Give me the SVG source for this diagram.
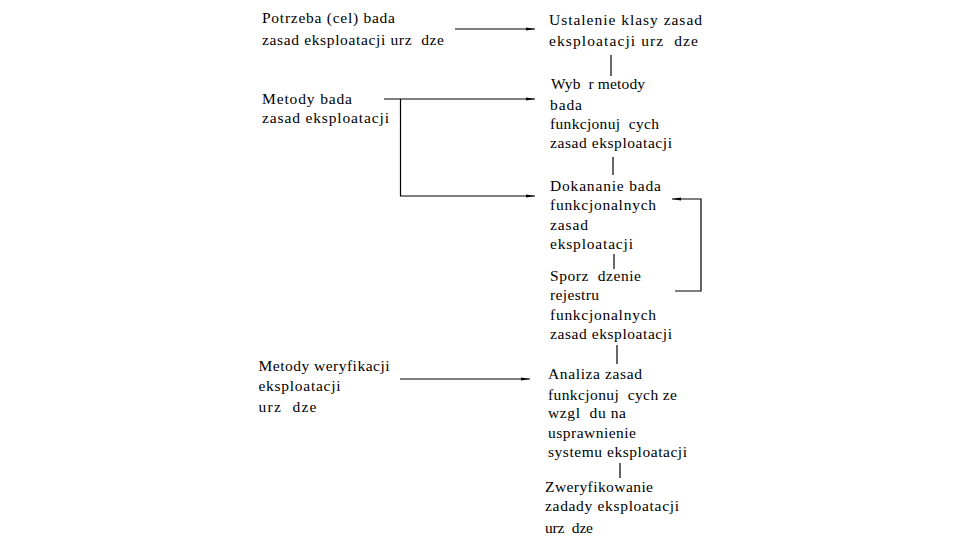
<svg xmlns="http://www.w3.org/2000/svg" width="976" height="551" viewBox="0 0 976 551" xml:space="preserve">
<style>
text{font-family:"Liberation Serif","Times New Roman",serif;font-size:15.5px;fill:#000;white-space:pre}
.c{stroke:#000;stroke-width:1.2;fill:none}
</style>
<defs>
<marker id="ah" markerWidth="9" markerHeight="4" refX="9" refY="2" orient="auto" markerUnits="userSpaceOnUse">
<path d="M0,0.5 L9,2 L0,3.5 Z" fill="#000"/>
</marker>
</defs>
<rect width="976" height="551" fill="#fff"/>
<g id="n-potrzeba">
<text x="262" y="23" textLength="133" lengthAdjust="spacing">Potrzeba (cel) bada</text>
<text x="262" y="45" textLength="182" lengthAdjust="spacing">zasad eksploatacji urz  dze</text>
</g>
<g id="n-ustalenie">
<text x="549" y="25" textLength="153" lengthAdjust="spacing">Ustalenie klasy zasad</text>
<text x="549" y="46" textLength="149" lengthAdjust="spacing">eksploatacji urz  dze</text>
</g>
<g id="n-metody-badan">
<text x="262" y="104" textLength="90" lengthAdjust="spacing">Metody bada</text>
<text x="262" y="123" textLength="127" lengthAdjust="spacing">zasad eksploatacji</text>
</g>
<g id="n-wybor">
<text x="551" y="89" textLength="94" lengthAdjust="spacing">Wyb  r metody</text>
<text x="550" y="110" textLength="32" lengthAdjust="spacing">bada</text>
<text x="550" y="129" textLength="109" lengthAdjust="spacing">funkcjonuj  cych</text>
<text x="550" y="148" textLength="122" lengthAdjust="spacing">zasad eksploatacji</text>
</g>
<g id="n-dokonanie">
<text x="550" y="191" textLength="111" lengthAdjust="spacing">Dokananie bada</text>
<text x="550" y="210" textLength="106" lengthAdjust="spacing">funkcjonalnych</text>
<text x="550" y="230" textLength="38" lengthAdjust="spacing">zasad</text>
<text x="550" y="249" textLength="83" lengthAdjust="spacing">eksploatacji</text>
</g>
<g id="n-sporzadzenie">
<text x="550" y="281" textLength="91" lengthAdjust="spacing">Sporz  dzenie</text>
<text x="550" y="300" textLength="49" lengthAdjust="spacing">rejestru</text>
<text x="550" y="320" textLength="106" lengthAdjust="spacing">funkcjonalnych</text>
<text x="550" y="339" textLength="122" lengthAdjust="spacing">zasad eksploatacji</text>
</g>
<g id="n-metody-weryfikacji">
<text x="258.5" y="371" textLength="131" lengthAdjust="spacing">Metody weryfikacji</text>
<text x="258.5" y="391" textLength="82" lengthAdjust="spacing">eksploatacji</text>
<text x="258.5" y="412" textLength="58" lengthAdjust="spacing">urz  dze</text>
</g>
<g id="n-analiza">
<text x="548" y="379" textLength="94" lengthAdjust="spacing">Analiza zasad</text>
<text x="548" y="400" textLength="129" lengthAdjust="spacing">funkcjonuj  cych ze</text>
<text x="548" y="418" textLength="78" lengthAdjust="spacing">wzgl  du na</text>
<text x="548" y="438" textLength="88" lengthAdjust="spacing">usprawnienie</text>
<text x="548" y="457" textLength="139" lengthAdjust="spacing">systemu eksploatacji</text>
</g>
<g id="n-zweryfikowanie">
<text x="545" y="492" textLength="108" lengthAdjust="spacing">Zweryfikowanie</text>
<text x="545" y="511" textLength="134" lengthAdjust="spacing">zadady eksploatacji</text>
<text x="545" y="533" textLength="48" lengthAdjust="spacing">urz  dze</text>
</g>
<g id="connectors">
<line class="c" x1="455" y1="29" x2="535" y2="29" marker-end="url(#ah)"/>
<line class="c" x1="611" y1="55" x2="611" y2="76"/>
<line class="c" x1="384" y1="99" x2="535" y2="99" marker-end="url(#ah)"/>
<polyline class="c" points="400.5,99 400.5,196 535,196" marker-end="url(#ah)"/>
<line class="c" x1="613" y1="157" x2="613" y2="175"/>
<line class="c" x1="614" y1="254" x2="614" y2="269"/>
<polyline class="c" points="675,291 701,291 701,199 672,199" marker-end="url(#ah)"/>
<line class="c" x1="617" y1="345" x2="617" y2="364"/>
<line class="c" x1="400" y1="379" x2="530" y2="379" marker-end="url(#ah)"/>
<line class="c" x1="620" y1="463" x2="620" y2="478"/>
</g>
</svg>
